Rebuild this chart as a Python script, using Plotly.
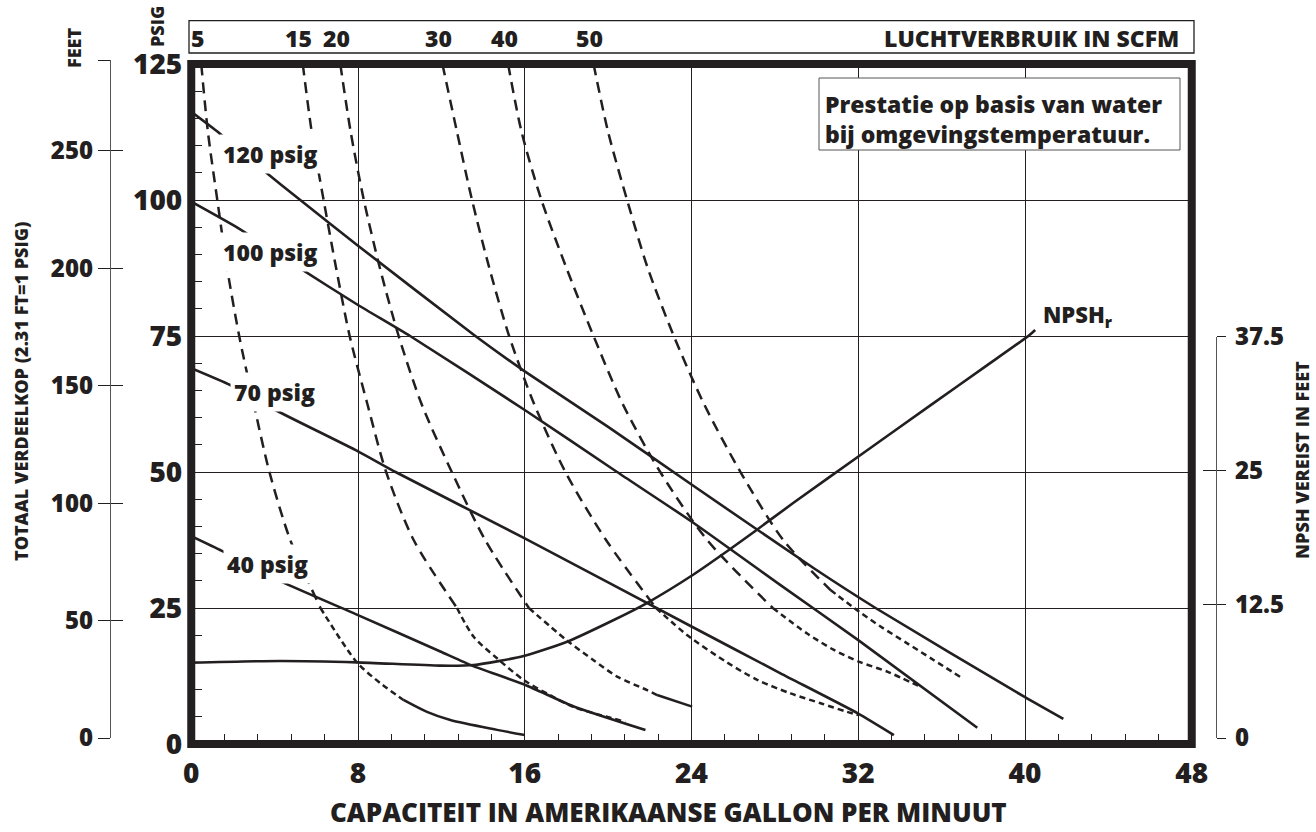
import plotly.graph_objects as go

# ---------------------------------------------------------------- data
gpm_ticks = [0, 8, 16, 24, 32, 40, 48]
psig_ticks = [0, 25, 50, 75, 100, 125]
feet_ticks = [0, 50, 100, 150, 200, 250]
npsh_ticks = [0, 12.5, 25, 37.5]

# discharge-pressure lines: capacity (US GPM) vs total head (psig)
p120_gpm = [0, 1.31, 3.44, 5.23, 8.0, 13.63, 16.0, 20.0, 24.0, 29.87, 32.83, 40.0, 41.84]
p120_head = [116.2, 112.4, 105.5, 100.0, 91.6, 75.0, 68.5, 58.3, 47.7, 32.3, 25.0, 8.6, 4.6]
p100_gpm = [0, 2.27, 5.15, 8.0, 10.5, 16.0, 20.43, 24.0, 28.27, 32.0, 37.71]
p100_head = [99.7, 94.8, 87.6, 80.7, 75.0, 61.4, 50.0, 40.9, 29.2, 19.1, 3.0]
p70_gpm = [0, 1.87, 4.03, 8.0, 9.8, 16.0, 24.0, 28.27, 32.0, 33.71]
p70_head = [69.1, 66.0, 61.4, 53.8, 50.0, 37.8, 21.6, 13.0, 5.6, 1.65]
p40_gpm = [0, 1.47, 4.35, 8.0, 11.95, 13.47, 16.03, 18.35, 21.79]
p40_head = [38.2, 35.5, 29.8, 23.7, 17.0, 14.4, 10.85, 6.9, 2.57]
pressure_labels = ["120 psig", "100 psig", "70 psig", "40 psig"]

# air consumption curves (SCFM): capacity (US GPM) vs total head (psig)
scfm_levels = [5, 15, 20, 30, 40, 50]
scfm5_gpm = [0.48, 0.8, 1.25, 1.72, 2.3, 3.0, 3.75, 4.75, 6.2, 7.95, 9.07, 10.18,
             11.31, 12.43, 14.67, 16.0]
scfm5_head = [125.0, 112.5, 100.0, 87.5, 75.0, 62.5, 50.0, 37.5, 25.0, 15.0, 11.2,
              8.1, 5.9, 4.4, 2.6, 1.65]
scfm15_gpm = [5.35, 5.78, 6.35, 6.95, 7.6, 8.45, 9.35, 10.67, 12.75, 13.55, 14.67,
              15.95, 17.2, 18.35, 20.83]
scfm15_head = [125.0, 112.5, 100.0, 87.5, 75.0, 62.5, 50.0, 37.5, 25.0, 19.7, 15.75,
               11.76, 9.0, 6.8, 4.1]
scfm20_gpm = [7.15, 7.65, 8.28, 9.05, 9.95, 11.05, 12.5, 14.1, 16.2, 18.0, 19.3,
              20.43, 21.87, 22.35, 24.03]
scfm20_head = [125.0, 112.5, 100.0, 87.5, 75.0, 62.5, 50.0, 37.5, 25.0, 19.1, 15.4,
               12.4, 9.9, 9.0, 6.86]
scfm30_gpm = [12.05, 12.75, 13.47, 14.3, 15.25, 16.45, 17.95, 19.9, 22.3, 23.8, 25.7,
              27.15, 28.75, 30.19, 31.47, 32.05]
scfm30_head = [125.0, 112.5, 100.0, 87.5, 75.0, 62.5, 50.0, 37.5, 25.0, 20.0, 15.0,
               11.8, 9.3, 7.5, 5.9, 5.3]
scfm40_gpm = [15.2, 15.85, 16.8, 18.0, 19.3, 20.7, 22.5, 24.75, 27.9, 29.55, 30.83,
              32.05, 33.39, 34.99]
scfm40_head = [125.0, 112.5, 100.0, 87.5, 75.0, 62.5, 50.0, 37.5, 25.0, 20.3, 17.3,
               15.1, 13.3, 10.5]
scfm50_gpm = [19.3, 20.0, 20.91, 21.9, 23.15, 24.6, 26.35, 28.4, 30.67, 32.05, 33.07,
              34.35, 35.63, 36.91]
scfm50_head = [125.0, 112.5, 100.0, 87.5, 75.0, 62.5, 50.0, 37.5, 28.3, 24.3, 21.6,
               18.5, 15.4, 12.3]

# required NPSH (feet)
npsh_gpm = [0, 4.27, 7.95, 11.95, 13.55, 15.95, 18.03, 20.27, 21.84, 24.06, 25.91,
            27.01, 28.86, 32.11, 35.51, 38.09, 40.16, 40.49]
npsh_ft = [7.04, 7.2, 7.07, 6.76, 6.82, 7.66, 9.0, 11.03, 12.59, 15.23, 17.73,
           19.28, 21.93, 26.45, 31.15, 34.7, 37.57, 38.13]

# ---------------------------------------------------------------- layout constants
INK = "#231f20"
FONT = "Open Sans"
WEIGHT = 800
W, H = 1316, 832
X_LEFT, X_RIGHT = 191.25, 1191.75      # frame, px
Y_TOP, Y_BOTTOM = 64.0, 744.0
FEET_X, FEET_TOP, FEET_ZERO = 110.0, 60.0, 738.0
NPSH_X, NPSH_TOP, NPSH_ZERO = 1216.0, 336.7, 738.0
FT_PER_PSI = 2.31
LONG_DASH, SHORT_DASH = "11px,7px", "6px,4px"
DASH_SWITCH_HEAD = 35.0                # long dashes above this head
SOLID_TAIL_FROM = {5: 10.18, 20: 22.35}  # curve drawn solid from this capacity on


def fx(p):
    return p / W


def fy(p):
    return (H - p) / H


def font(size):
    return dict(family=FONT, size=size, color=INK, weight=WEIGHT)


fig = go.Figure()

# pressure lines
pressure_series = [(p120_gpm, p120_head), (p100_gpm, p100_head),
                   (p70_gpm, p70_head), (p40_gpm, p40_head)]
for (gx, hy), name in zip(pressure_series, pressure_labels):
    fig.add_trace(go.Scatter(x=gx, y=hy, mode="lines", name=name,
                             line=dict(color=INK, width=2.6, shape="spline",
                                       smoothing=0.5),
                             hoverinfo="skip"))

# air consumption curves, split into long-dash / short-dash / solid parts
scfm_series = [(scfm5_gpm, scfm5_head), (scfm15_gpm, scfm15_head),
               (scfm20_gpm, scfm20_head), (scfm30_gpm, scfm30_head),
               (scfm40_gpm, scfm40_head), (scfm50_gpm, scfm50_head)]


def add_piece(gx, hy, dash):
    if len(gx) < 2:
        return
    fig.add_trace(go.Scatter(x=gx, y=hy, mode="lines", hoverinfo="skip",
                             line=dict(color=INK, width=2.5, dash=dash,
                                       shape="spline", smoothing=0.8)))


for level, (gx, hy) in zip(scfm_levels, scfm_series):
    k = next(i for i, v in enumerate(hy) if v < DASH_SWITCH_HEAD)
    add_piece(gx[:k + 1], hy[:k + 1], LONG_DASH)
    tail = SOLID_TAIL_FROM.get(level)
    if tail is None:
        add_piece(gx[k:], hy[k:], SHORT_DASH)
    else:
        j = next(i for i, v in enumerate(gx) if v >= tail)
        add_piece(gx[k:j + 1], hy[k:j + 1], SHORT_DASH)
        add_piece(gx[j:], hy[j:], "solid")

# NPSH curve on its own (hidden) feet scale
fig.add_trace(go.Scatter(x=npsh_gpm, y=npsh_ft, yaxis="y4", mode="lines",
                         line=dict(color=INK, width=2.6, shape="spline", smoothing=0.6),
                         hoverinfo="skip"))

# empty traces so the outer scales get drawn
for ax in ["y2", "y3", "y5", "y6"]:
    fig.add_trace(go.Scatter(x=[None], y=[None], yaxis=ax, mode="lines",
                             hoverinfo="skip"))

npsh_scale = (NPSH_ZERO - NPSH_TOP) / npsh_ticks[-1]
npsh_range = [(NPSH_ZERO - Y_BOTTOM) / npsh_scale, (NPSH_ZERO - Y_TOP) / npsh_scale]
feet_top = psig_ticks[-1] * FT_PER_PSI

fig.update_layout(
    width=W, height=H,
    margin=dict(l=0, r=0, t=0, b=0, autoexpand=False),
    paper_bgcolor="white", plot_bgcolor="rgba(0,0,0,0)",
    font=font(14),
    showlegend=False,
    xaxis=dict(domain=[fx(X_LEFT), fx(X_RIGHT)], range=[0, 48], tickvals=gpm_ticks,
               showgrid=True, gridcolor=INK, gridwidth=1.2, zeroline=False,
               showline=False, ticks="", tickfont=font(28),
               ticklabelstandoff=10, anchor="y", fixedrange=True,
               minor=dict(dtick=1.6, tick0=0, ticks="inside", ticklen=10,
                          tickwidth=1.3, tickcolor=INK, showgrid=False)),
    yaxis=dict(domain=[fy(Y_BOTTOM), fy(Y_TOP)], range=[0, 125], tickvals=psig_ticks,
               showgrid=True, gridcolor=INK, gridwidth=1.2, zeroline=False,
               showline=False, ticks="", tickfont=font(28),
               ticklabelstandoff=8, anchor="x", fixedrange=True,
               minor=dict(dtick=5, tick0=0, ticks="inside", ticklen=11,
                          tickwidth=1.3, tickcolor=INK, showgrid=False)),
    yaxis2=dict(domain=[fy(FEET_ZERO), fy(FEET_TOP)], range=[0, feet_top],
                tickvals=feet_ticks + [feet_top],
                ticktext=[str(v) for v in feet_ticks] + [""],
                anchor="free", position=fx(FEET_X), side="left",
                showline=True, linecolor="#555", linewidth=1.3,
                ticks="outside", ticklen=12, tickwidth=1.3, tickcolor=INK,
                showgrid=False, zeroline=False, tickfont=font(24),
                ticklabelstandoff=0, fixedrange=True),
    yaxis5=dict(overlaying="y2", range=[0, feet_top], tickvals=feet_ticks + [feet_top],
                anchor="free", position=fx(FEET_X), side="left", showline=False,
                ticks="inside", ticklen=12, tickwidth=1.3, tickcolor=INK,
                showticklabels=False, showgrid=False, zeroline=False, fixedrange=True),
    yaxis3=dict(domain=[fy(NPSH_ZERO), fy(NPSH_TOP)], range=[0, npsh_ticks[-1]],
                tickvals=npsh_ticks, ticktext=["0", "12.5", "25", "37.5"],
                anchor="free", position=fx(NPSH_X), side="right",
                showline=True, linecolor="#555", linewidth=1.3,
                ticks="outside", ticklen=9, tickwidth=1.3, tickcolor=INK,
                showgrid=False, zeroline=False, tickfont=font(24),
                ticklabelstandoff=4, fixedrange=True),
    yaxis6=dict(overlaying="y3", range=[0, npsh_ticks[-1]], tickvals=npsh_ticks,
                anchor="free", position=fx(NPSH_X), side="right", showline=False,
                ticks="inside", ticklen=13, tickwidth=1.3, tickcolor=INK,
                showticklabels=False, showgrid=False, zeroline=False, fixedrange=True),
    yaxis4=dict(overlaying="y", range=npsh_range, visible=False, fixedrange=True),
)

# heavy frame round the plotting area
fig.add_shape(type="rect", xref="x domain", yref="y domain", x0=0, x1=1, y0=0, y1=1,
              line=dict(color=INK, width=8), layer="above")
# air consumption header strip
fig.add_shape(type="rect", xref="paper", yref="paper",
              x0=fx(189), x1=fx(1194), y0=fy(53), y1=fy(20.7),
              line=dict(color=INK, width=1.3))
# note box
fig.add_shape(type="rect", xref="paper", yref="paper",
              x0=fx(819), x1=fx(1180), y0=fy(150), y1=fy(78),
              line=dict(color="#555", width=1), fillcolor="white", layer="above")

ann = []
# pressure line labels, set on a white patch that breaks the line
label_spots = [(3.78, 108.5), (3.78, 90.4), (3.97, 64.7), (3.66, 33.1)]
for text, (lx, ly) in zip(pressure_labels, label_spots):
    ann.append(dict(x=lx, y=ly, xref="x", yref="y", text=text, showarrow=False,
                    font=font(23), bgcolor="white", borderpad=3,
                    xanchor="center", yanchor="middle"))
# NPSHr label
ann.append(dict(x=40.75, y=78.7, xref="x", yref="y", text="NPSH<sub>r</sub>",
                showarrow=False, xanchor="left", yanchor="middle", font=font(22)))
# SCFM values along the header strip
for level, (gx, hy) in zip(scfm_levels, scfm_series):
    ann.append(dict(x=gx[0], y=fy(37.5), xref="x", yref="paper", text=str(level),
                    showarrow=False, xanchor="center", yanchor="middle", xshift=-4,
                    font=font(23)))
ann.append(dict(x=fx(1181), y=fy(37.5), xref="paper", yref="paper",
                text="LUCHTVERBRUIK IN SCFM", showarrow=False, xanchor="right",
                yanchor="middle", font=font(23)))
# note text
ann.append(dict(x=fx(823), y=fy(119), xref="paper", yref="paper",
                text="Prestatie op basis van water<br>bij omgevingstemperatuur.",
                align="left", showarrow=False, xanchor="left", yanchor="middle",
                font=font(23)))
# axis titles
ann.append(dict(x=fx(668), y=fy(812), xref="paper", yref="paper",
                text="CAPACITEIT IN AMERIKAANSE GALLON PER MINUUT", showarrow=False,
                xanchor="center", yanchor="middle", font=font(26)))
ann.append(dict(x=fx(21), y=fy(391), xref="paper", yref="paper",
                text="TOTAAL VERDEELKOP (2.31 FT=1 PSIG)", textangle=-90,
                showarrow=False, xanchor="center", yanchor="middle", font=font(18)))
ann.append(dict(x=fx(1302), y=fy(460), xref="paper", yref="paper",
                text="NPSH VEREIST IN FEET", textangle=-90,
                showarrow=False, xanchor="center", yanchor="middle", font=font(18)))
ann.append(dict(x=fx(74), y=fy(48), xref="paper", yref="paper", text="FEET",
                textangle=-90, showarrow=False, xanchor="center", yanchor="middle",
                font=font(18)))
ann.append(dict(x=fx(157), y=fy(27), xref="paper", yref="paper", text="PSIG",
                textangle=-90, showarrow=False, xanchor="center", yanchor="middle",
                font=font(18)))
fig.update_layout(annotations=ann)

fig.write_html("out.html")
